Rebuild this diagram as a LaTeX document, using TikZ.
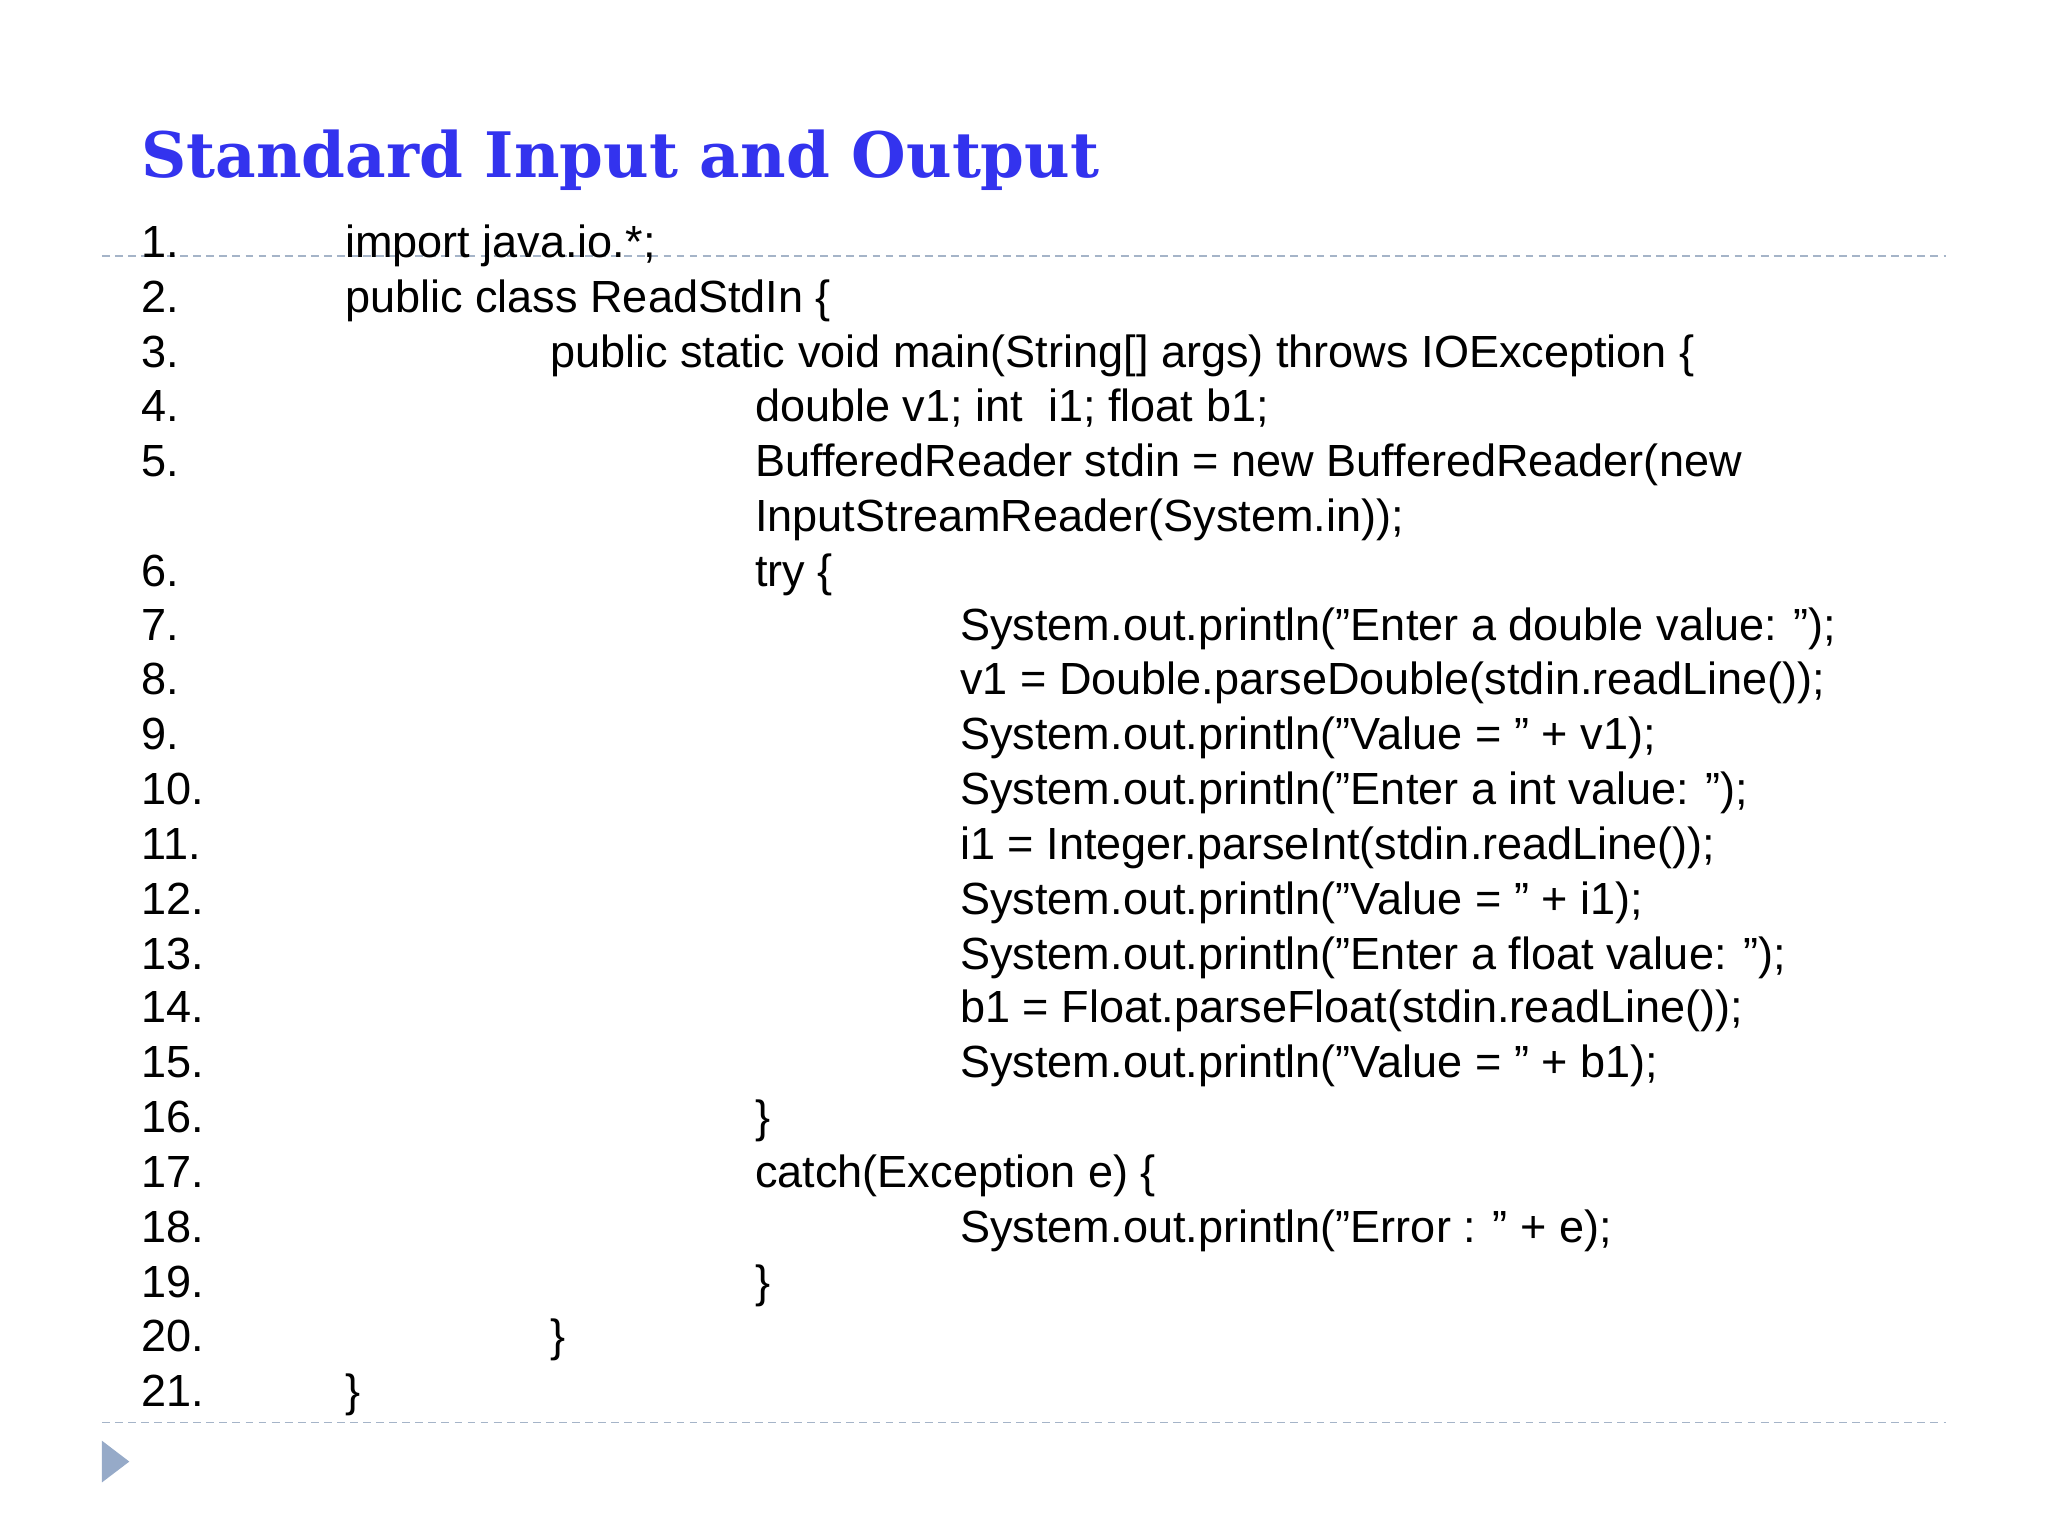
\documentclass[tikz,border=0pt]{standalone}
\usepackage{fontspec}
\setmainfont[Ligatures=ResetAll]{Liberation Sans}
\newfontfamily\titlefont{DejaVu Serif}
\definecolor{titleblue}{RGB}{51,51,238}
\definecolor{dashgray}{RGB}{165,180,200}
\definecolor{trifill}{RGB}{150,170,200}
\newcommand\qq{\symbol{34}}
\begin{document}
\begin{tikzpicture}[x=1pt,y=-1pt,
  code/.style={anchor=base west,inner sep=0pt,font=\fontsize{34.5}{34.5}\selectfont},
  dline/.style={draw=dashgray,dash pattern=on 6pt off 4pt,line width=1.2pt}]
\useasboundingbox (0,0) rectangle (1568,1176);
\node[anchor=base west,inner sep=0pt,text=titleblue,font=\titlefont\bfseries\fontsize{48}{48}\selectfont] (title) at (108,136) {Standard Input and Output};
\coordinate (d1a) at (78,196); \coordinate (d1b) at (1490,196);
\coordinate (d2a) at (78,1089); \coordinate (d2b) at (1490,1089);
\draw[dline] (d1a) -- (d1b);
\draw[dline] (d2a) -- (d2b);
\fill[trifill] (78,1103) -- (99,1119) -- (78,1135) -- cycle;
\def\L#1#2#3#4{\node[code] (n#1) at (108,#2) {#1.};\node[code] (c#1) at (#3,#2) {#4};}
\L{1}{197}{264}{import java.io.*;}
\L{2}{239}{264}{public class ReadStdIn \{}
\L{3}{281}{421}{public static void main(String[] args) throws IOException \{}
\L{4}{323}{578}{double v1; int\ \ i1; float b1;}
\L{5}{365}{578}{BufferedReader stdin = new BufferedReader(new}
\node[code] (c5b) at (578,407) {InputStreamReader(System.in));};
\L{6}{449}{578}{try \{}
\L{7}{490}{735}{System.out.println(\qq Enter a double value: \qq);}
\L{8}{532}{735}{v1 = Double.parseDouble(stdin.readLine());}
\L{9}{574}{735}{System.out.println(\qq Value = \qq\ + v1);}
\L{10}{616}{735}{System.out.println(\qq Enter a int value: \qq);}
\L{11}{658}{735}{i1 = Integer.parseInt(stdin.readLine());}
\L{12}{700}{735}{System.out.println(\qq Value = \qq\ + i1);}
\L{13}{742}{735}{System.out.println(\qq Enter a float value: \qq);}
\L{14}{783}{735}{b1 = Float.parseFloat(stdin.readLine());}
\L{15}{825}{735}{System.out.println(\qq Value = \qq\ + b1);}
\L{16}{867}{578}{\}}
\L{17}{909}{578}{catch(Exception e) \{}
\L{18}{951}{735}{System.out.println(\qq Error : \qq\ + e);}
\L{19}{993}{578}{\}}
\L{20}{1035}{421}{\}}
\L{21}{1077}{264}{\}}
\end{tikzpicture}
\end{document}
